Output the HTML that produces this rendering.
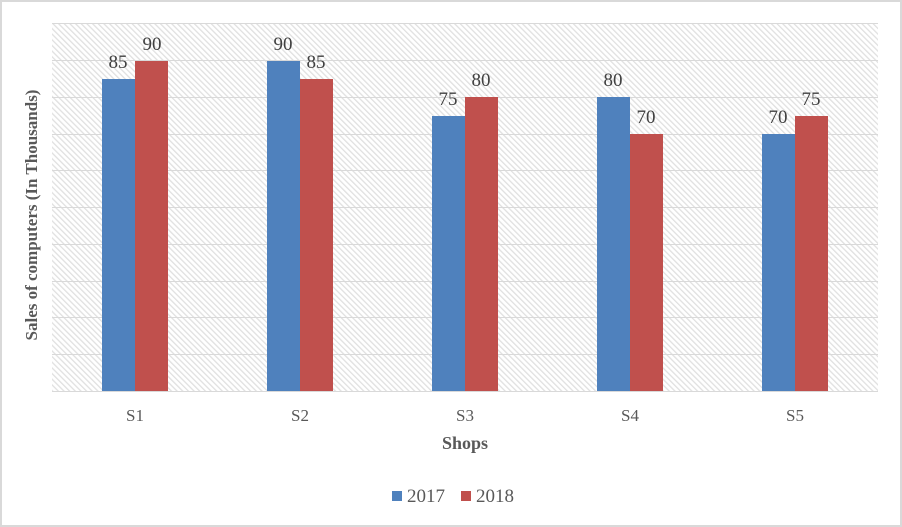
<!DOCTYPE html>
<html><head><style>body{margin:0;background:#fff}svg{display:block}</style></head><body>
<svg width="902" height="527" xmlns="http://www.w3.org/2000/svg" font-family="'Liberation Serif',serif">
<defs><pattern id="h" width="4" height="4" patternUnits="userSpaceOnUse" patternTransform="rotate(-45)"><rect width="4" height="4" fill="#fff"/><rect width="1.3" height="4" fill="#e0e0e0"/></pattern></defs>
<rect x="1" y="1" width="900" height="525" fill="#fff" stroke="#d9d9d9" stroke-width="2"/>
<rect x="52" y="23" width="826" height="368" fill="url(#h)"/>
<g stroke="#d9d9d9" stroke-width="1">
<line x1="52" x2="878" y1="23.5" y2="23.5"/><line x1="52" x2="878" y1="60.5" y2="60.5"/><line x1="52" x2="878" y1="97.5" y2="97.5"/><line x1="52" x2="878" y1="134.5" y2="134.5"/><line x1="52" x2="878" y1="170.5" y2="170.5"/><line x1="52" x2="878" y1="207.5" y2="207.5"/><line x1="52" x2="878" y1="244.5" y2="244.5"/><line x1="52" x2="878" y1="281.5" y2="281.5"/><line x1="52" x2="878" y1="317.5" y2="317.5"/><line x1="52" x2="878" y1="354.5" y2="354.5"/><line x1="52" x2="878" y1="391.5" y2="391.5"/>
</g>
<g>
<rect x="102" y="79" width="33" height="312" fill="#4f81bd"/><rect x="135" y="61" width="33" height="330" fill="#c0504d"/>
<rect x="267" y="61" width="33" height="330" fill="#4f81bd"/><rect x="300" y="79" width="33" height="312" fill="#c0504d"/>
<rect x="432" y="116" width="33" height="275" fill="#4f81bd"/><rect x="465" y="97" width="33" height="294" fill="#c0504d"/>
<rect x="597" y="97" width="33" height="294" fill="#4f81bd"/><rect x="630" y="134" width="33" height="257" fill="#c0504d"/>
<rect x="762" y="134" width="33" height="257" fill="#4f81bd"/><rect x="795" y="116" width="33" height="275" fill="#c0504d"/>
</g>
<g font-size="19" fill="#404040" text-anchor="middle">
<text x="118" y="68">85</text><text x="152" y="50">90</text>
<text x="283" y="50">90</text><text x="316" y="68">85</text>
<text x="448" y="105">75</text><text x="481" y="86">80</text>
<text x="613" y="86">80</text><text x="646" y="123">70</text>
<text x="778" y="123">70</text><text x="811" y="105">75</text>
</g>
<g font-size="17" fill="#595959" text-anchor="middle">
<text x="135" y="421">S1</text><text x="300" y="421">S2</text><text x="465" y="421">S3</text><text x="630" y="421">S4</text><text x="795" y="421">S5</text>
</g>
<text x="465" y="449" font-size="18" font-weight="bold" fill="#595959" text-anchor="middle">Shops</text>
<text transform="translate(37,215) rotate(-90)" font-size="17" font-weight="bold" fill="#595959" text-anchor="middle">Sales of computers (In Thousands)</text>
<rect x="392" y="491" width="10" height="10" fill="#4f81bd"/><text x="407" y="502" font-size="19" fill="#595959">2017</text>
<rect x="461" y="491" width="10" height="10" fill="#c0504d"/><text x="476" y="502" font-size="19" fill="#595959">2018</text>
</svg>
</body></html>
